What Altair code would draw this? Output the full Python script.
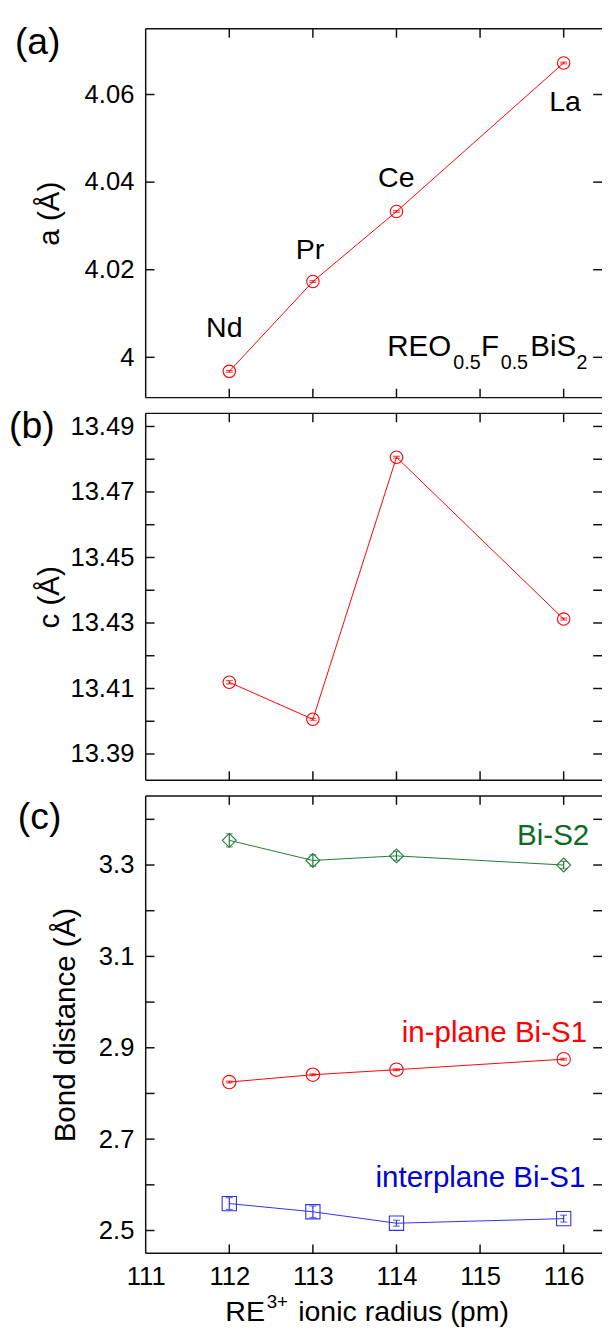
import altair as alt
import pandas as pd

FONT = "Liberation Sans"

# ---------------- data ----------------
radius = [112, 113, 114, 116]
elements = ["Nd", "Pr", "Ce", "La"]

a_val = [3.9968, 4.0173, 4.0333, 4.0672]
a_err = [0.0002, 0.0002, 0.0002, 0.0002]

c_val = [13.4119, 13.4006, 13.4806, 13.4312]
c_err = [0.0005, 0.0003, 0.0003, 0.0003]

bis2_val = [3.354, 3.310, 3.320, 3.300]
bis2_err = [0.0144, 0.0124, 0.0097, 0.008]

inplane_val = [2.825, 2.841, 2.852, 2.875]
inplane_err = [0.002, 0.002, 0.002, 0.002]

interplane_val = [2.559, 2.541, 2.516, 2.526]
interplane_err = [0.013, 0.0125, 0.0065, 0.0075]

x_ticks = [112, 113, 114, 115, 116]
x_labels = [111, 112, 113, 114, 115, 116]
a_ticks = [4.0, 4.02, 4.04, 4.06]
c_ticks = [13.39, 13.40, 13.41, 13.42, 13.43, 13.44, 13.45, 13.46, 13.47, 13.48, 13.49]
c_labels = [13.39, 13.41, 13.43, 13.45, 13.47, 13.49]
d_ticks = [2.5, 2.6, 2.7, 2.8, 2.9, 3.0, 3.1, 3.2, 3.3, 3.4]
d_labels = [2.5, 2.7, 2.9, 3.1, 3.3]

# annotation positions (data coordinates)
elem_x = [111.94, 112.965, 113.998, 116.017]
elem_y = [4.0047, 4.0224, 4.0388, 4.0562]

X_DOM = [111, 116.459]
A_DOM = [3.9908, 4.075]
C_DOM = [13.382, 13.494]
D_DOM = [2.4502, 3.4512]

W = 464
HA, HB, HC = 375, 373, 465
TICK = 9

RED = "#ff0000"
GREEN_T = "#0b6b1f"
GREEN_L = "#207a35"
BLUE_T = "#0000dd"
BLUE_L = "#3030ee"
FRAME = "#111111"


def xenc(axis):
    return alt.X("x:Q", scale=alt.Scale(domain=X_DOM, nice=False, zero=False), axis=axis)


def yenc(dom, axis):
    return alt.Y("y:Q", scale=alt.Scale(domain=dom, nice=False, zero=False), axis=axis)


def y_axis(values, fmt, title, H, tx):
    return alt.Axis(values=values, format=fmt, ticks=False, tickSize=0, domain=False, grid=False,
                    labelFont=FONT, labelFontSize=26, labelColor="black", labelPadding=12,
                    title=title, titleFont=FONT, titleFontSize=30, titleFontWeight="normal",
                    titleColor="black", titleAngle=270, titleX=tx,
                    titleY=H / 2, titleAlign="center", titleBaseline="alphabetic")


def frame_layers(H, X, Y, yticks):
    one = pd.DataFrame({"k": [0]})
    sw = 1.5
    layers = []
    layers.append(alt.Chart(one).mark_rule(color=FRAME, strokeWidth=sw).encode(
        x=alt.value(0), x2=alt.value(W), y=alt.value(0)))
    layers.append(alt.Chart(one).mark_rule(color=FRAME, strokeWidth=sw).encode(
        x=alt.value(0), x2=alt.value(W), y=alt.value(H)))
    layers.append(alt.Chart(one).mark_rule(color=FRAME, strokeWidth=sw).encode(
        x=alt.value(0), y=alt.value(0), y2=alt.value(H)))
    xt = pd.DataFrame({"x": x_ticks})
    layers.append(alt.Chart(xt).mark_rule(color=FRAME, strokeWidth=sw).encode(
        X, y=alt.value(H), y2=alt.value(H - TICK)))
    layers.append(alt.Chart(xt).mark_rule(color=FRAME, strokeWidth=sw).encode(
        X, y=alt.value(0), y2=alt.value(TICK)))
    yt = pd.DataFrame({"y": yticks})
    layers.append(alt.Chart(yt).mark_rule(color=FRAME, strokeWidth=sw).encode(
        Y, x=alt.value(0), x2=alt.value(TICK)))
    layers.append(alt.Chart(yt).mark_rule(color=FRAME, strokeWidth=sw).encode(
        Y, x=alt.value(W), x2=alt.value(W - TICK)))
    return layers


def series_layers(vals, errs, line_color, shape, size, X, Y):
    df = pd.DataFrame({"x": radius, "y": vals})
    er = pd.DataFrame({"x": radius,
                       "y": [v - e for v, e in zip(vals, errs)],
                       "y2": [v + e for v, e in zip(vals, errs)]})
    caps = pd.DataFrame({"x": radius + radius,
                         "y": [v - e for v, e in zip(vals, errs)] + [v + e for v, e in zip(vals, errs)]})
    return [
        alt.Chart(df).mark_line(color=line_color, strokeWidth=1).encode(X, Y),
        alt.Chart(er).mark_rule(color=line_color, strokeWidth=1.2).encode(X, Y, y2="y2:Q"),
        alt.Chart(caps).mark_tick(color=line_color, orient="horizontal", size=7, thickness=1.2).encode(X, Y),
        alt.Chart(df).mark_point(shape=shape, size=size, filled=False, color=line_color,
                                 strokeWidth=1.1, opacity=1).encode(X, Y),
    ]


def panel_label(text, dx, dy):
    one = pd.DataFrame({"k": [0]})
    return alt.Chart(one).mark_text(align="left", baseline="alphabetic", font=FONT, fontSize=38,
                                    color="black").encode(x=alt.value(dx), y=alt.value(dy),
                                                          text=alt.value(text))


# ---------------- panel (a) ----------------
Xa = xenc(None)
Ya = yenc(A_DOM, y_axis(a_ticks, ".2~f", "a (Å)", HA, -89))
elem_df = pd.DataFrame({"x": elem_x, "y": elem_y, "text": elements})
formula_df = pd.DataFrame({
    "x": [113.889, 114.68, 115.012, 115.247, 115.60, 116.153],
    "y": [4.0004, 3.9973, 4.0004, 3.9973, 4.0004, 3.9973],
    "text": ["REO", "0.5", "F", "0.5", "BiS", "2"],
    "fs": [30, 20, 30, 20, 30, 20],
})
a_layers = frame_layers(HA, Xa, Ya, a_ticks) + series_layers(a_val, a_err, RED, "circle", 160, Xa, Ya) + [
    alt.Chart(elem_df).mark_text(align="center", baseline="alphabetic", font=FONT, fontSize=29,
                                 color="black").encode(Xa, Ya, text="text:N"),
    alt.Chart(formula_df).mark_text(align="left", baseline="alphabetic", font=FONT,
                                    color="black").encode(Xa, Ya, text="text:N",
                                                          size=alt.Size("fs:Q", scale=None, legend=None)),
    panel_label("(a)", -133, 26),
]
chart_a = alt.layer(*a_layers).properties(width=W, height=HA)

# ---------------- panel (b) ----------------
Xb = xenc(None)
Yb = yenc(C_DOM, y_axis(c_labels, ".2f", "c (Å)", HB, -89))
b_layers = frame_layers(HB, Xb, Yb, c_ticks) + series_layers(c_val, c_err, RED, "circle", 160, Xb, Yb) + [
    panel_label("(b)", -139, 25),
]
chart_b = alt.layer(*b_layers).properties(width=W, height=HB)

# ---------------- panel (c) ----------------
Xc = xenc(alt.Axis(values=x_labels, format="d", ticks=False, tickSize=0, domain=False, grid=False,
                   labelFont=FONT, labelFontSize=26, labelColor="black", labelPadding=11,
                   labelFlush=False, title=None))
Yc = yenc(D_DOM, y_axis(d_labels, ".1f", "Bond distance (Å)", HC, -72))
series_text = pd.DataFrame({
    "x": [116.306, 116.28, 116.26],
    "y": [3.3437, 2.9129, 2.5952],
    "text": ["Bi-S2", "in-plane Bi-S1", "interplane Bi-S1"],
    "col": [GREEN_T, RED, BLUE_T],
})
one = pd.DataFrame({"k": [0]})
c_layers = frame_layers(HC, Xc, Yc, d_ticks) \
    + series_layers(bis2_val, bis2_err, GREEN_L, "diamond", 200, Xc, Yc) \
    + series_layers(inplane_val, inplane_err, RED, "circle", 185, Xc, Yc) \
    + series_layers(interplane_val, interplane_err, BLUE_L, "square", 210, Xc, Yc) + [
    alt.Chart(series_text).mark_text(align="right", baseline="alphabetic", font=FONT, fontSize=30).encode(
        Xc, Yc, text="text:N", color=alt.Color("col:N", scale=None, legend=None)),
    panel_label("(c)", -130, 34),
    alt.Chart(one).mark_text(align="left", baseline="alphabetic", font=FONT, fontSize=29, color="black").encode(
        x=alt.value(81), y=alt.value(HC + 69), text=alt.value("RE")),
    alt.Chart(one).mark_text(align="left", baseline="alphabetic", font=FONT, fontSize=19, color="black").encode(
        x=alt.value(123), y=alt.value(HC + 56), text=alt.value("3+")),
    alt.Chart(one).mark_text(align="left", baseline="alphabetic", font=FONT, fontSize=29, color="black").encode(
        x=alt.value(155), y=alt.value(HC + 69), text=alt.value("ionic radius (pm)")),
]
chart_c = alt.layer(*c_layers).properties(width=W, height=HC)

chart = alt.vconcat(chart_a, chart_b, chart_c, spacing=16, bounds="flush").properties(
    padding={"left": 0, "top": 5, "right": 0, "bottom": 0}
).configure_view(stroke="transparent")

chart.save("out.html", embed_options={"renderer": "svg", "actions": False})
